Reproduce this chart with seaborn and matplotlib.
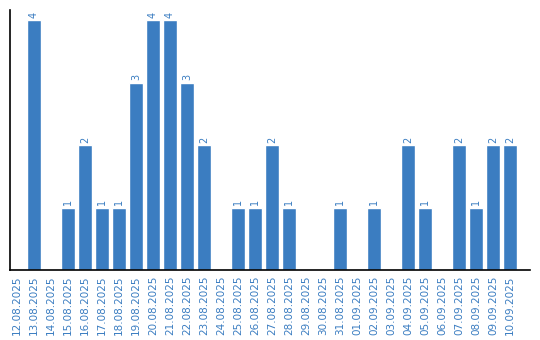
import matplotlib
matplotlib.use("Agg")
import matplotlib.pyplot as plt
import seaborn as sns
import pandas as pd

dates = ["12.08.2025", "13.08.2025", "14.08.2025", "15.08.2025", "16.08.2025",
         "17.08.2025", "18.08.2025", "19.08.2025", "20.08.2025", "21.08.2025",
         "22.08.2025", "23.08.2025", "24.08.2025", "25.08.2025", "26.08.2025",
         "27.08.2025", "28.08.2025", "29.08.2025", "30.08.2025", "31.08.2025",
         "01.09.2025", "02.09.2025", "03.09.2025", "04.09.2025", "05.09.2025",
         "06.09.2025", "07.09.2025", "08.09.2025", "09.09.2025", "10.09.2025"]
counts = [0, 4, 0, 1, 2, 1, 1, 3, 4, 4, 3, 2, 0, 1, 1, 2, 1, 0, 0, 1,
          0, 1, 0, 2, 1, 0, 2, 1, 2, 2]

sns.set_style("white")
plt.rcParams['font.family'] = ['DejaVu Sans']

blue = "#3b7dc1"
df = pd.DataFrame({"date": dates, "count": counts})

fig = plt.figure(figsize=(5.4, 3.4), dpi=100)
ax = fig.add_axes([10/540, 70/340, 520/540, 260/340])
sns.barplot(data=df, x="date", y="count", color=blue, saturation=1,
            width=0.82, ax=ax, order=dates)

ax.set_xlim(-0.41, 30.18)
ax.set_ylim(0, 4.16)
ax.set_xlabel("")
ax.set_ylabel("")
ax.set_yticks([])
ax.tick_params(axis="x", length=0, pad=4, labelrotation=90, labelcolor=blue, labelsize=7.5)
for lbl in ax.get_xticklabels():
    lbl.set_verticalalignment("top")

for i, v in enumerate(counts):
    if v > 0:
        ax.text(i, v + 0.04, str(v), rotation=90, ha="center", va="bottom",
                color=blue, fontsize=7)

for s in ["top", "right"]:
    ax.spines[s].set_visible(False)
for s in ["left", "bottom"]:
    ax.spines[s].set_color("black")
    ax.spines[s].set_linewidth(1.2)

fig.savefig("out.png", dpi=100)
